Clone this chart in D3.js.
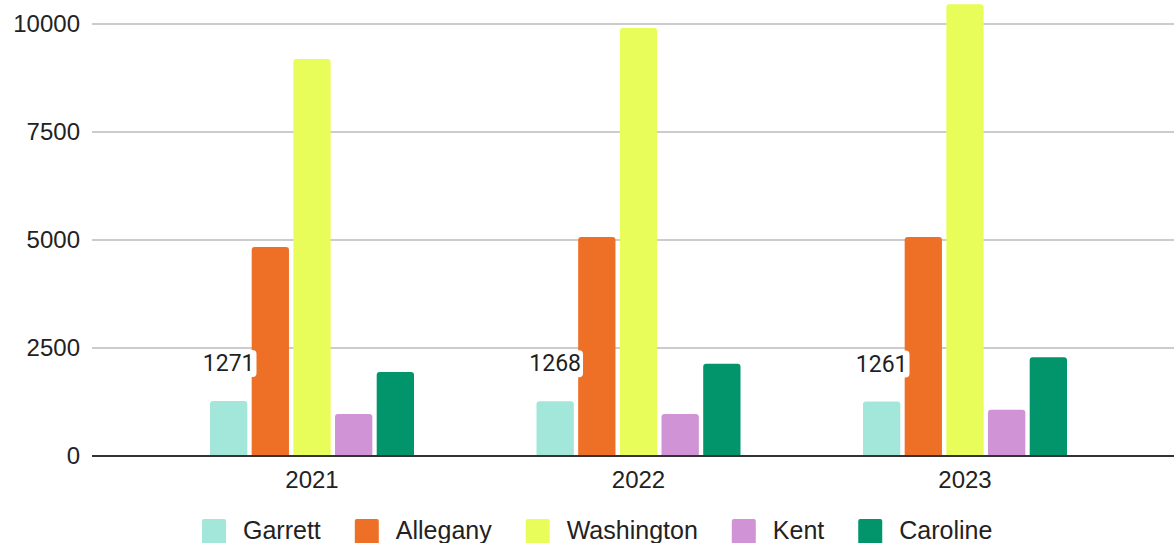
<!DOCTYPE html>
<html>
<head>
<meta charset="utf-8">
<script src="https://cdn.jsdelivr.net/npm/d3@7"></script>
<style>
  html, body { margin: 0; padding: 0; background: #fff; }
  svg { display: block; }
</style>
</head>
<body>
<svg id="chart" width="1174" height="543"></svg>
<script>
const years = ["2021", "2022", "2023"];
const seriesNames = ["Garrett", "Allegany", "Washington", "Kent", "Caroline"];
const garrett    = [1271, 1268, 1261];
const allegany   = [4840, 5070, 5070];
const washington = [9190, 9910, 10460];
const kent       = [970, 970, 1070];
const caroline   = [1945, 2135, 2285];
const yTicks = [0, 2500, 5000, 7500, 10000];
const colors = ["#a2e7da", "#ee7027", "#e9fd5a", "#cf93d6", "#02956b"];
const labelSeries = "Garrett";

const seriesValues = [garrett, allegany, washington, kent, caroline];
const data = years.map((yr, i) => ({
  year: yr,
  values: seriesNames.map((s, j) => ({ series: s, value: seriesValues[j][i], color: colors[j] }))
}));

const svg = d3.select("#chart");
const plotLeft = 92, plotRight = 1174;
const y = d3.scaleLinear().domain([0, 10000]).range([456, 24]);
const x0 = d3.scaleBand().domain(years).range([148.75, 1128.25]).padding(0);
const groupW = 204;
const x1 = d3.scaleBand().domain(seriesNames).range([0, groupW]).paddingInner(0.105);

// gridlines
svg.append("g").selectAll("line").data(yTicks.filter(d => d !== 0)).join("line")
  .attr("x1", plotLeft).attr("x2", plotRight)
  .attr("y1", d => y(d)).attr("y2", d => y(d))
  .attr("stroke", "#cccccc").attr("stroke-width", 2);

// y tick labels
const yAxis = d3.axisLeft(y).tickValues(yTicks).tickSize(0).tickPadding(0).tickFormat(d3.format("d"));
const gy = svg.append("g").attr("transform", "translate(80,0)").call(yAxis);
gy.select(".domain").remove();
gy.selectAll("text")
  .attr("font-family", "Liberation Sans, Arial, sans-serif")
  .attr("font-size", 24).attr("fill", "#222");

// bars
const groups = svg.append("g").selectAll("g").data(data).join("g")
  .attr("transform", d => `translate(${x0(d.year) + (x0.bandwidth() - groupW) / 2},0)`);

const r = 3;
groups.selectAll("path").data(d => d.values).join("path")
  .attr("fill", d => d.color)
  .attr("d", d => {
    const xl = x1(d.series), w = x1.bandwidth();
    const yt = y(d.value), yb = y(0);
    return `M${xl},${yb}V${yt + r}Q${xl},${yt} ${xl + r},${yt}H${xl + w - r}Q${xl + w},${yt} ${xl + w},${yt + r}V${yb}Z`;
  });

// baseline
svg.append("line").attr("x1", plotLeft).attr("x2", plotRight)
  .attr("y1", y(0)).attr("y2", y(0))
  .attr("stroke", "#333").attr("stroke-width", 2);

// x axis labels
const xAxis = d3.axisBottom(x0).tickSize(0).tickPadding(0);
const gx = svg.append("g").attr("transform", `translate(0,${y(0)})`).call(xAxis);
gx.select(".domain").remove();
gx.selectAll("text")
  .attr("dy", null).attr("y", 32)
  .attr("font-family", "Liberation Sans, Arial, sans-serif")
  .attr("font-size", 24).attr("fill", "#222");

// data labels for Garrett
const li = seriesNames.indexOf(labelSeries);
const labels = svg.append("g").selectAll("g").data(data).join("g");
labels.each(function(d) {
  const v = d.values[li];
  const cx = x0(d.year) + (x0.bandwidth() - groupW) / 2 + x1(v.series) + x1.bandwidth() / 2;
  const baseY = y(v.value) - 30;
  const g = d3.select(this);
  const rect = g.append("rect").attr("fill", "#fff").attr("rx", 4);
  const t = g.append("text").attr("x", cx).attr("y", baseY)
    .attr("text-anchor", "middle")
    .attr("font-family", "Roboto, sans-serif").attr("font-size", 23)
    .attr("fill", "#1f1f1f").text(v.value);
  const bb = t.node().getBBox();
  rect.attr("x", bb.x - 2).attr("y", bb.y).attr("width", bb.width + 4).attr("height", bb.height);
});

// legend
const legend = svg.append("g");
let lx = 202;
seriesNames.forEach((s, i) => {
  legend.append("rect").attr("x", lx).attr("y", 519).attr("width", 24).attr("height", 26)
    .attr("rx", 2).attr("fill", colors[i]);
  const t = legend.append("text").attr("x", lx + 41).attr("y", 539)
    .attr("font-family", "Liberation Sans, Arial, sans-serif").attr("font-size", 25)
    .attr("fill", "#222").text(s);
  lx = lx + 41 + t.node().getComputedTextLength() + 34;
});
</script>
</body>
</html>
